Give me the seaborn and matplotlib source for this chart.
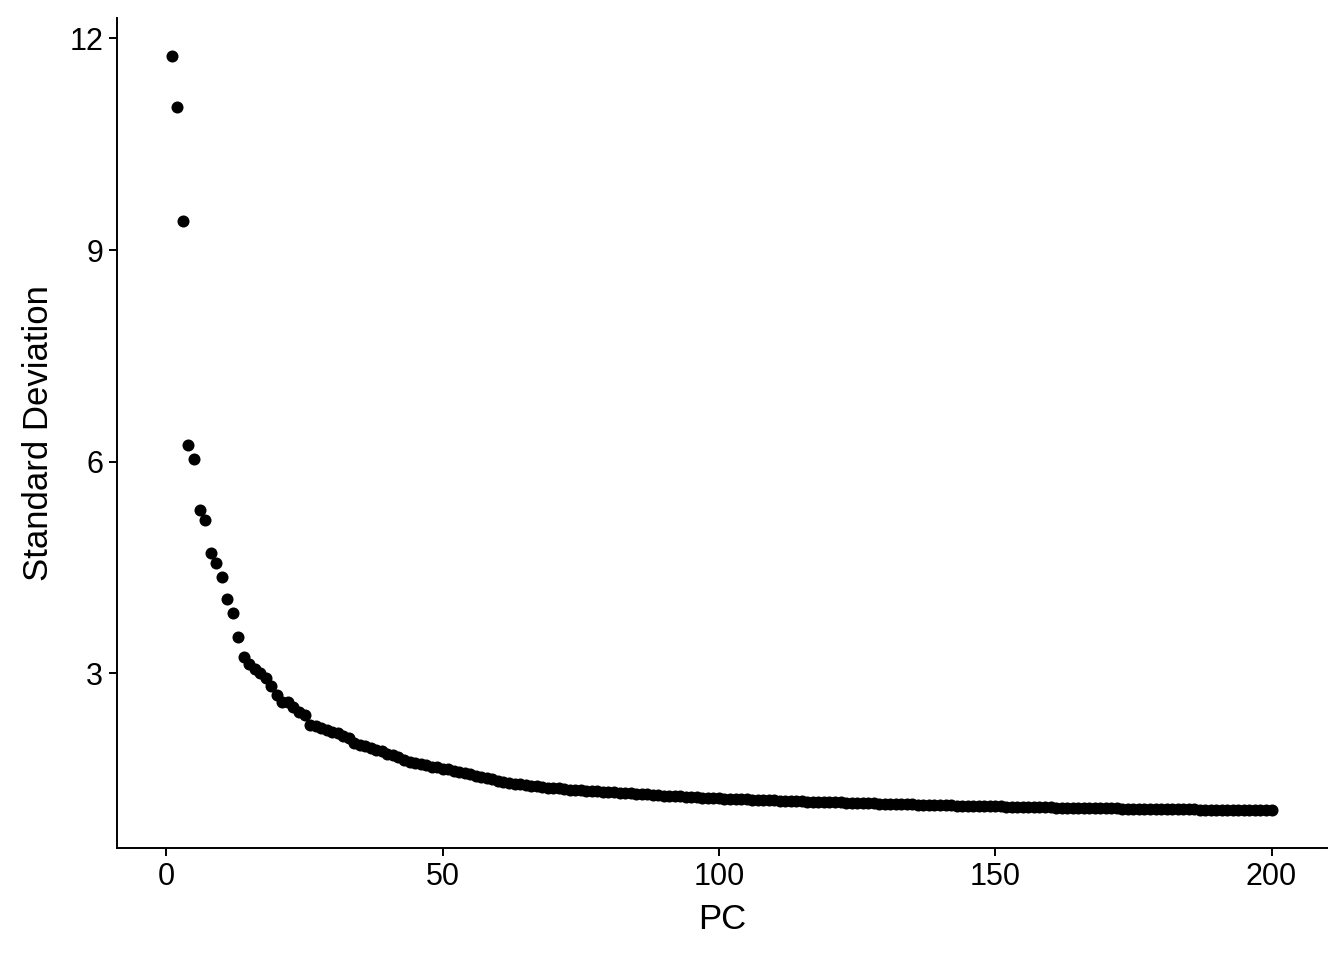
import seaborn as sns
import matplotlib.pyplot as plt
import pandas as pd

# standard deviation of each principal component
std_dev = [
    11.75, 11.02, 9.41, 6.24, 6.04, 5.31, 5.17, 4.70, 4.56, 4.36,
    4.05, 3.85, 3.51, 3.23, 3.13, 3.06, 3.00, 2.94, 2.82, 2.69,
    2.60, 2.59, 2.53, 2.45, 2.41, 2.27, 2.25, 2.23, 2.20, 2.17,
    2.15, 2.12, 2.09, 2.01, 1.99, 1.97, 1.94, 1.92, 1.90, 1.86,
    1.84, 1.81, 1.78, 1.75, 1.73, 1.71, 1.70, 1.68, 1.67, 1.65,
    1.64, 1.62, 1.61, 1.59, 1.57, 1.55, 1.53, 1.52, 1.50, 1.48,
    1.46, 1.45, 1.44, 1.43, 1.42, 1.41, 1.40, 1.39, 1.38, 1.375,
    1.37, 1.36, 1.355, 1.35, 1.345, 1.34, 1.335, 1.33, 1.325, 1.32,
    1.315, 1.31, 1.305, 1.30, 1.295, 1.29, 1.285, 1.28, 1.275, 1.27,
    1.265, 1.26, 1.256, 1.252, 1.248, 1.244, 1.240, 1.236, 1.233, 1.230,
    1.227, 1.224, 1.221, 1.218, 1.215, 1.212, 1.209, 1.206, 1.203, 1.200,
    1.198, 1.195, 1.193, 1.190, 1.188, 1.185, 1.183, 1.180, 1.178, 1.176,
    1.173, 1.171, 1.169, 1.167, 1.165, 1.162, 1.160, 1.158, 1.156, 1.154,
    1.152, 1.150, 1.148, 1.146, 1.144, 1.142, 1.140, 1.138, 1.136, 1.134,
    1.132, 1.130, 1.128, 1.127, 1.125, 1.123, 1.122, 1.120, 1.118, 1.117,
    1.115, 1.114, 1.112, 1.111, 1.109, 1.108, 1.106, 1.105, 1.103, 1.102,
    1.100, 1.099, 1.098, 1.096, 1.095, 1.094, 1.092, 1.091, 1.090, 1.089,
    1.088, 1.086, 1.085, 1.084, 1.083, 1.082, 1.081, 1.080, 1.079, 1.078,
    1.077, 1.076, 1.075, 1.074, 1.073, 1.072, 1.071, 1.071, 1.070, 1.069,
    1.068, 1.067, 1.066, 1.066, 1.065, 1.064, 1.063, 1.062, 1.062, 1.061,
]
pcs = list(range(1, len(std_dev) + 1))

x_ticks = [0, 50, 100, 150, 200]
y_ticks = [3, 6, 9, 12]

df = pd.DataFrame({'PC': pcs, 'Standard Deviation': std_dev})

sns.set_style('ticks')
plt.rcParams['font.family'] = ['Liberation Sans', 'DejaVu Sans']

fig = plt.figure(figsize=(13.44, 9.6), dpi=100)
ax = fig.add_axes([0.087, 0.1167, 0.9, 0.8643])
sns.scatterplot(data=df, x='PC', y='Standard Deviation', color='black',
                s=75, linewidth=0, ax=ax)

# ggplot-like 5% expansion
lo, hi = min(std_dev), max(std_dev)
pad = 0.05 * (hi - lo)
ax.set_ylim(lo - pad, hi + pad)
xpad = 0.05 * (pcs[-1] - pcs[0])
ax.set_xlim(pcs[0] - xpad, pcs[-1] + xpad)

ax.set_xticks(x_ticks)
ax.set_yticks(y_ticks)
ax.tick_params(axis='both', labelsize=22, length=6, width=1.4, pad=4,
               color='black', labelcolor='black', direction='out')
ax.set_xlabel('PC', fontsize=25, color='black', labelpad=8)
ax.set_ylabel('Standard Deviation', fontsize=25, color='black', labelpad=10)
for side in ['top', 'right']:
    ax.spines[side].set_visible(False)
for side in ['left', 'bottom']:
    ax.spines[side].set_linewidth(1.4)
    ax.spines[side].set_color('black')

fig.savefig('out.png', dpi=100)
